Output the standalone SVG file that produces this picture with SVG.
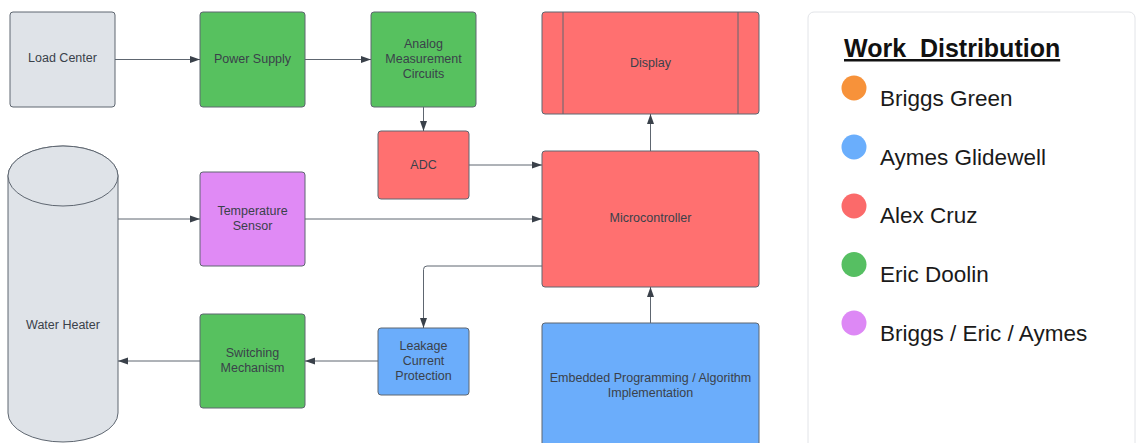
<svg xmlns="http://www.w3.org/2000/svg" width="1136" height="443" viewBox="0 0 1136 443">
<defs>
<marker id="ah" viewBox="0 0 10 10" refX="10" refY="5" markerWidth="10" markerHeight="10" markerUnits="userSpaceOnUse" orient="auto">
<path d="M0,1.5 L10,5 L0,8.5 Z" fill="#3a414a"/>
</marker>
</defs>
<style>
.box{stroke:#5e6670;stroke-width:1;}
.gray{fill:#dfe3e8;}
.green{fill:#57c15f;}
.red{fill:#ff7070;}
.purple{fill:#e08af5;}
.blue{fill:#6badfb;}
.t{font-family:"Liberation Sans",Arial,sans-serif;font-size:12.5px;fill:#3a414a;text-anchor:middle;}
.conn{fill:none;stroke:#5e6670;stroke-width:1;marker-end:url(#ah);}
.lg{font-family:"Liberation Sans",Arial,sans-serif;font-size:22.5px;fill:#1a1a1a;}
</style>
<rect width="1136" height="443" fill="#ffffff"/>

<g id="load-center">
<rect class="box gray" x="10" y="12" width="105" height="95" rx="3"/>
<text class="t" x="62.5" y="62">Load Center</text>
</g>
<g id="power-supply">
<rect class="box green" x="200" y="12" width="105" height="95" rx="3"/>
<text class="t" x="252.5" y="63">Power Supply</text>
</g>
<g id="analog">
<rect class="box green" x="371" y="12" width="105" height="95" rx="3"/>
<text class="t" x="423.5" y="47.5">Analog</text>
<text class="t" x="423.5" y="62.5">Measurement</text>
<text class="t" x="423.5" y="77.5">Circuits</text>
</g>
<g id="adc">
<rect class="box red" x="378" y="131" width="91" height="68" rx="3"/>
<text class="t" x="423.5" y="169">ADC</text>
</g>
<g id="display">
<rect class="box red" x="542" y="12" width="217" height="102" rx="3"/>
<line class="box" x1="563" y1="12" x2="563" y2="114"/>
<line class="box" x1="738" y1="12" x2="738" y2="114"/>
<text class="t" x="650.5" y="67">Display</text>
</g>
<g id="microcontroller">
<rect class="box red" x="542" y="151" width="217" height="136" rx="3"/>
<text class="t" x="650.5" y="222">Microcontroller</text>
</g>
<g id="water-heater">
<path class="box gray" d="M8,176 L8,413 A55,29 0 0 0 118,413 L118,176 A55,30 0 0 0 8,176 Z"/>
<ellipse class="box gray" cx="63" cy="176" rx="55" ry="30"/>
<text class="t" x="63" y="328.5">Water Heater</text>
</g>
<g id="temperature-sensor">
<rect class="box purple" x="200" y="172" width="105" height="94" rx="3"/>
<text class="t" x="252.5" y="214.5">Temperature</text>
<text class="t" x="252.5" y="229.5">Sensor</text>
</g>
<g id="switching-mechanism">
<rect class="box green" x="200" y="314" width="105" height="94" rx="3"/>
<text class="t" x="252.5" y="356.5">Switching</text>
<text class="t" x="252.5" y="371.5">Mechanism</text>
</g>
<g id="leakage">
<rect class="box blue" x="378" y="328" width="91" height="67" rx="3"/>
<text class="t" x="423.5" y="349.5">Leakage</text>
<text class="t" x="423.5" y="364.5">Current</text>
<text class="t" x="423.5" y="379.5">Protection</text>
</g>
<g id="embedded">
<rect class="box blue" x="542" y="323" width="217" height="124" rx="3"/>
<text class="t" x="650.5" y="381.5">Embedded Programming / Algorithm</text>
<text class="t" x="650.5" y="396.5">Implementation</text>
</g>

<g id="connectors">
<line class="conn" x1="115" y1="59.5" x2="200" y2="59.5"/>
<line class="conn" x1="305" y1="59.5" x2="371" y2="59.5"/>
<line class="conn" x1="423.5" y1="107" x2="423.5" y2="131"/>
<line class="conn" x1="469" y1="165" x2="542" y2="165"/>
<line class="conn" x1="650.5" y1="151" x2="650.5" y2="114"/>
<line class="conn" x1="118" y1="219" x2="200" y2="219"/>
<line class="conn" x1="305" y1="219" x2="542" y2="219"/>
<path class="conn" d="M542,266 L427,266 Q423.5,266 423.5,269.5 L423.5,328"/>
<line class="conn" x1="378" y1="361" x2="305" y2="361"/>
<line class="conn" x1="200" y1="361" x2="118" y2="361"/>
<line class="conn" x1="650.5" y1="323" x2="650.5" y2="287"/>
</g>

<g id="legend">
<rect x="808" y="12" width="327" height="440" rx="6" fill="#ffffff" stroke="#e2e4e8" stroke-width="1"/>
<text x="844" y="57" font-family="'Liberation Sans',Arial,sans-serif" font-size="25" font-weight="bold" fill="#111" text-decoration="underline" xml:space="preserve">Work  Distribution</text>
<circle cx="854" cy="88" r="12.5" fill="#f7923a"/>
<text class="lg" x="880" y="106">Briggs Green</text>
<circle cx="854" cy="147" r="12.5" fill="#6aaefc"/>
<text class="lg" x="880" y="164.5">Aymes Glidewell</text>
<circle cx="854" cy="206" r="12.5" fill="#fb6a6a"/>
<text class="lg" x="880" y="223">Alex Cruz</text>
<circle cx="854" cy="264.5" r="12.5" fill="#56bf62"/>
<text class="lg" x="880" y="282">Eric Doolin</text>
<circle cx="854" cy="323" r="12.5" fill="#dd88f5"/>
<text class="lg" x="880" y="340.5">Briggs / Eric / Aymes</text>
</g>
</svg>
